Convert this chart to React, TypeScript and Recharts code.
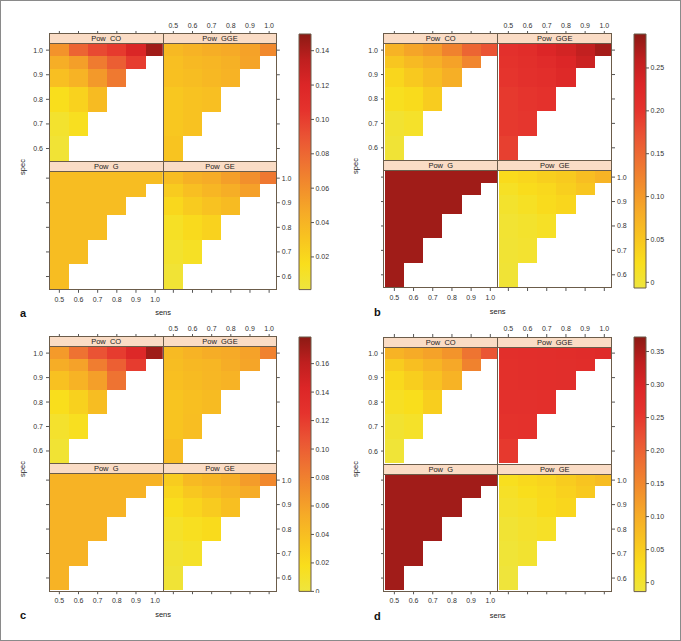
import React from 'react';
import { ScatterChart, Scatter, XAxis, YAxis, ReferenceArea } from 'recharts';

// sens levels (columns) and spec levels (rows, top to bottom)
const SENS = [0.5, 0.6, 0.7, 0.8, 0.9, 1.0];
const SPEC = [1.0, 0.95, 0.9, 0.8, 0.7, 0.6];
const SPEC_TICKS = [0.6, 0.7, 0.8, 0.9, 1.0];
const TITLES = ['Pow  CO', 'Pow  GGE', 'Pow  G', 'Pow  GE'];

// each row = one spec level, values listed from sens 0.5 upward
const A_CO = [
  [0.058, 0.082, 0.095, 0.102, 0.121, 0.144],
  [0.044, 0.052, 0.070, 0.085, 0.101],
  [0.034, 0.041, 0.055, 0.071],
  [0.016, 0.023, 0.036],
  [0.008, 0.014],
  [0.005],
];
const A_GGE = [
  [0.037, 0.041, 0.044, 0.046, 0.050, 0.063],
  [0.034, 0.037, 0.039, 0.042, 0.049],
  [0.033, 0.035, 0.038, 0.041],
  [0.029, 0.032, 0.034],
  [0.029, 0.032],
  [0.031],
];
const A_G = [
  [0.035, 0.035, 0.035, 0.035, 0.035, 0.035],
  [0.035, 0.035, 0.035, 0.035, 0.035],
  [0.035, 0.035, 0.035, 0.035],
  [0.035, 0.035, 0.035],
  [0.035, 0.035],
  [0.035],
];
const A_GE = [
  [0.035, 0.042, 0.045, 0.052, 0.060, 0.072],
  [0.027, 0.034, 0.039, 0.044, 0.051],
  [0.020, 0.027, 0.032, 0.036],
  [0.012, 0.018, 0.023],
  [0.008, 0.012],
  [0.005],
];

const B_CO = [
  [0.073, 0.088, 0.100, 0.124, 0.153, 0.171],
  [0.050, 0.064, 0.076, 0.091, 0.120],
  [0.032, 0.047, 0.061, 0.077],
  [0.020, 0.026, 0.044],
  [0.005, 0.011],
  [0.000],
];
const B_GGE = [
  [0.207, 0.215, 0.230, 0.240, 0.257, 0.275],
  [0.204, 0.210, 0.218, 0.230, 0.248],
  [0.200, 0.207, 0.212, 0.224],
  [0.195, 0.200, 0.205],
  [0.195, 0.198],
  [0.189],
];
const B_G = [
  [0.278, 0.278, 0.278, 0.278, 0.278, 0.278],
  [0.278, 0.278, 0.278, 0.278, 0.278],
  [0.278, 0.278, 0.278, 0.278],
  [0.278, 0.278, 0.278],
  [0.278, 0.278],
  [0.278],
];
const B_GE = [
  [0.026, 0.032, 0.040, 0.046, 0.060, 0.072],
  [0.015, 0.025, 0.030, 0.040, 0.050],
  [0.008, 0.016, 0.027, 0.032],
  [0.003, 0.008, 0.014],
  [0.002, 0.006],
  [0.000],
];

const C_CO = [
  [0.064, 0.089, 0.107, 0.120, 0.140, 0.172],
  [0.052, 0.059, 0.082, 0.100, 0.120],
  [0.038, 0.048, 0.061, 0.088],
  [0.018, 0.027, 0.041],
  [0.009, 0.016],
  [0.005],
];
const C_GGE = [
  [0.043, 0.048, 0.052, 0.054, 0.059, 0.079],
  [0.041, 0.044, 0.046, 0.052, 0.057],
  [0.039, 0.042, 0.045, 0.048],
  [0.036, 0.039, 0.042],
  [0.036, 0.040],
  [0.040],
];
const C_G = [
  [0.048, 0.048, 0.048, 0.048, 0.048, 0.048],
  [0.048, 0.048, 0.048, 0.048, 0.048],
  [0.048, 0.048, 0.048, 0.048],
  [0.048, 0.048, 0.048],
  [0.048, 0.048],
  [0.048],
];
const C_GE = [
  [0.030, 0.043, 0.047, 0.052, 0.063, 0.075],
  [0.024, 0.034, 0.040, 0.046, 0.053],
  [0.018, 0.024, 0.031, 0.039],
  [0.011, 0.016, 0.020],
  [0.007, 0.011],
  [0.004],
];

const D_CO = [
  [0.090, 0.102, 0.114, 0.133, 0.175, 0.214],
  [0.052, 0.071, 0.087, 0.106, 0.156],
  [0.033, 0.048, 0.067, 0.090],
  [0.017, 0.025, 0.048],
  [0.002, 0.010],
  [-0.006],
];
const D_GGE = [
  [0.268, 0.270, 0.272, 0.274, 0.276, 0.280],
  [0.266, 0.268, 0.270, 0.272, 0.275],
  [0.266, 0.268, 0.270, 0.272],
  [0.264, 0.265, 0.267],
  [0.260, 0.262],
  [0.249],
];
const D_G = [
  [0.356, 0.356, 0.356, 0.356, 0.356, 0.356],
  [0.356, 0.356, 0.356, 0.356, 0.356],
  [0.356, 0.356, 0.356, 0.356],
  [0.356, 0.356, 0.356],
  [0.356, 0.356],
  [0.356],
];
const D_GE = [
  [0.021, 0.033, 0.040, 0.052, 0.064, 0.075],
  [0.013, 0.025, 0.033, 0.044, 0.056],
  [0.006, 0.013, 0.029, 0.037],
  [-0.002, 0.006, 0.013],
  [-0.006, 0.002],
  [-0.010],
];

// colour key ranges and ticks
const A_RANGE: [number, number] = [0.001, 0.1497];
const B_RANGE: [number, number] = [-0.0066, 0.2896];
const C_RANGE: [number, number] = [0, 0.1787];
const D_RANGE: [number, number] = [-0.0136, 0.372];
const A_TICKS = [0.02, 0.04, 0.06, 0.08, 0.1, 0.12, 0.14];
const B_TICKS = [0, 0.05, 0.1, 0.15, 0.2, 0.25];
const C_TICKS = [0, 0.02, 0.04, 0.06, 0.08, 0.1, 0.12, 0.14, 0.16];
const D_TICKS = [0, 0.05, 0.1, 0.15, 0.2, 0.25, 0.3, 0.35];

const RAMP: [number, string][] = [
  [0.0, '#EEE53E'],
  [0.1, '#F9DE1C'],
  [0.2, '#F8C420'],
  [0.3, '#F6AB27'],
  [0.4, '#F28E2C'],
  [0.5, '#EE7132'],
  [0.6, '#EA5334'],
  [0.7, '#E5332D'],
  [0.8, '#DC2627'],
  [0.9, '#BF1F1F'],
  [1.0, '#8C1A14'],
];

const FONT = '"Liberation Sans", Arial, Helvetica, sans-serif';
const STRIP = 10;
const BORDER = '#6b5c4a';
const TICK = '#555';
const LABEL = '#333';
const AXW = 26;
const AXH = 16;
const M = 2;
const X_DOMAIN = [0.446, 1.04];
const Y_DOMAIN = [0.546, 1.025];

const hexToRgb = (h: string) => {
  const n = parseInt(h.slice(1), 16);
  return [(n >> 16) & 255, (n >> 8) & 255, n & 255];
};

const heat = (t: number) => {
  const u = Math.max(0, Math.min(1, t));
  for (let i = 1; i < RAMP.length; i++) {
    if (u <= RAMP[i][0]) {
      const [o0, c0] = RAMP[i - 1];
      const [o1, c1] = RAMP[i];
      const f = (u - o0) / (o1 - o0);
      const a = hexToRgb(c0);
      const b = hexToRgb(c1);
      const mix = a.map((v, k) => Math.round(v + (b[k] - v) * f));
      return `rgb(${mix[0]},${mix[1]},${mix[2]})`;
    }
  }
  return RAMP[RAMP.length - 1][1];
};

// cell edges sit halfway between neighbouring levels
const levelBounds = (levels: number[], v: number): [number, number] => {
  const s = [...levels].sort((a, b) => a - b);
  const i = s.indexOf(v);
  const n = s.length;
  const lo = i > 0 ? (s[i - 1] + v) / 2 : v - (s[1] - s[0]) / 2;
  const hi = i < n - 1 ? (v + s[i + 1]) / 2 : v + (s[n - 1] - s[n - 2]) / 2;
  return [lo, hi];
};

const fmt1 = (v: number) => v.toFixed(1);
const fmtKey = (v: number) => (v === 0 ? '0' : v.toFixed(2));
const blank = () => '';

type Quad = {
  letter: string;
  left: number;
  top: number;
  pw: number;
  ph: number;
  letterX: number;
  range: [number, number];
  ticks: number[];
  panels: number[][][];
};

const QUADS: Quad[] = [
  { letter: 'a', left: 48.3, top: 32.7, pw: 113.8, ph: 117.8, letterX: 19, range: A_RANGE, ticks: A_TICKS, panels: [A_CO, A_GGE, A_G, A_GE] },
  { letter: 'b', left: 382.7, top: 32.7, pw: 114, ph: 117, letterX: 373, range: B_RANGE, ticks: B_TICKS, panels: [B_CO, B_GGE, B_G, B_GE] },
  { letter: 'c', left: 48.3, top: 335.7, pw: 113.8, ph: 117.2, letterX: 19, range: C_RANGE, ticks: C_TICKS, panels: [C_CO, C_GGE, C_G, C_GE] },
  { letter: 'd', left: 382.7, top: 336, pw: 114, ph: 117.3, letterX: 373, range: D_RANGE, ticks: D_TICKS, panels: [D_CO, D_GGE, D_G, D_GE] },
];

const TopTick = (props: any) => {
  const { x, y, payload, show } = props;
  const y0 = y - STRIP;
  return (
    <g>
      <line x1={x} x2={x} y1={y0} y2={y0 - 3} stroke={TICK} />
      {show && (
        <text x={x} y={y0 - 6} textAnchor="middle" fontSize={7} fill={LABEL} fontFamily={FONT}>
          {fmt1(payload.value)}
        </text>
      )}
    </g>
  );
};

const Panel = ({ q, idx }: { q: Quad; idx: number }) => {
  const r = Math.floor(idx / 2);
  const c = idx % 2;
  const vals = q.panels[idx];
  const hasTop = r === 0;
  const hasLeft = c === 0;
  const offL = M + (hasLeft ? AXW : 0);
  const offR = M + (hasLeft ? 0 : AXW);
  const offT = M + (hasTop ? STRIP + AXH : 0);
  const offB = M + (hasTop ? 0 : AXH);
  const dataLeft = q.left + c * q.pw;
  const stripTop = q.top + r * (STRIP + q.ph);
  const dataTop = stripTop + STRIP;
  const [lo, hi] = q.range;

  const cells: any[] = [];
  vals.forEach((row, i) =>
    row.forEach((v, j) => {
      const spec = SPEC[i];
      const sens = SENS[j];
      const [x1, x2] = levelBounds(SENS, sens);
      const [y1, y2] = levelBounds(SPEC, spec);
      cells.push({ sens, spec, v, x1, x2, y1, y2, color: heat((v - lo) / (hi - lo)) });
    })
  );

  const showX = hasTop ? c === 1 : c === 0;
  const showY = (c === 0 && r === 0) || (c === 1 && r === 1);
  const tickStyle = { fontSize: 7, fill: LABEL, fontFamily: FONT };

  return (
    <>
      <div style={{ position: 'absolute', left: dataLeft - offL, top: dataTop - offT }}>
        <ScatterChart
          width={offL + q.pw + offR}
          height={offT + q.ph + offB}
          margin={{ top: M, right: M, bottom: M, left: M }}
        >
          {hasTop ? (
            <XAxis
              type="number"
              dataKey="sens"
              orientation="top"
              domain={X_DOMAIN}
              allowDataOverflow
              ticks={SENS}
              interval={0}
              height={STRIP + AXH}
              tickSize={0}
              tickMargin={0}
              tickLine={false}
              axisLine={false}
              tick={<TopTick show={showX} />}
            />
          ) : (
            <XAxis
              type="number"
              dataKey="sens"
              orientation="bottom"
              domain={X_DOMAIN}
              allowDataOverflow
              ticks={SENS}
              interval={0}
              height={AXH}
              tickSize={3}
              tickMargin={4}
              tickLine={{ stroke: TICK }}
              axisLine={false}
              tick={tickStyle}
              tickFormatter={showX ? fmt1 : blank}
            />
          )}
          <YAxis
            type="number"
            dataKey="spec"
            orientation={hasLeft ? 'left' : 'right'}
            domain={Y_DOMAIN}
            allowDataOverflow
            ticks={SPEC_TICKS}
            interval={0}
            width={AXW}
            tickSize={3}
            tickMargin={hasLeft ? 3 : 2}
            tickLine={{ stroke: TICK }}
            axisLine={false}
            tick={tickStyle}
            tickFormatter={showY ? fmt1 : blank}
          />
          <Scatter data={cells} isAnimationActive={false} shape={() => <g />} />
          {cells.map((d, k) => (
            <ReferenceArea
              key={k}
              x1={d.x1}
              x2={d.x2}
              y1={d.y1}
              y2={d.y2}
              fill={d.color}
              fillOpacity={1}
              stroke="none"
              shapeRendering="crispEdges"
              ifOverflow="hidden"
            />
          ))}
        </ScatterChart>
      </div>
      <div
        style={{
          position: 'absolute',
          left: dataLeft - 0.5,
          top: dataTop - 0.5,
          width: q.pw + 1,
          height: q.ph + 1,
          border: `1px solid ${BORDER}`,
          boxSizing: 'border-box',
          pointerEvents: 'none',
        }}
      />
      <div
        style={{
          position: 'absolute',
          left: dataLeft - 0.5,
          top: stripTop - 0.5,
          width: q.pw + 1,
          height: STRIP + 1,
          border: `1px solid ${BORDER}`,
          boxSizing: 'border-box',
          background: '#FADCC5',
          fontFamily: FONT,
          fontSize: 7.5,
          lineHeight: `${STRIP - 1}px`,
          textAlign: 'center',
          whiteSpace: 'pre',
          color: '#222',
        }}
      >
        {TITLES[idx]}
      </div>
    </>
  );
};

const ColorKey = ({ q, i }: { q: Quad; i: number }) => {
  const left = q.left + 2 * q.pw + 22;
  const w = 12;
  const h = 2 * (STRIP + q.ph);
  const id = `key-${i}`;
  return (
    <div style={{ position: 'absolute', left: left - M, top: q.top - M }}>
      <ScatterChart width={M + w + 34} height={h + 2 * M} margin={{ top: M, right: M, bottom: M, left: M }}>
        <defs>
          <linearGradient id={id} x1="0" y1="1" x2="0" y2="0">
            {RAMP.map(([o, col]) => (
              <stop key={o} offset={o} stopColor={col} />
            ))}
          </linearGradient>
        </defs>
        <XAxis type="number" dataKey="x" domain={[0, 1]} hide />
        <YAxis
          type="number"
          dataKey="y"
          orientation="right"
          domain={q.range}
          allowDataOverflow
          ticks={q.ticks}
          interval={0}
          width={32}
          tickSize={3}
          tickMargin={1.5}
          tickLine={{ stroke: TICK }}
          axisLine={false}
          tick={{ fontSize: 7, fill: LABEL, fontFamily: FONT }}
          tickFormatter={fmtKey}
        />
        <Scatter data={q.ticks.map((t) => ({ x: 0.5, y: t }))} isAnimationActive={false} shape={() => <g />} />
        <ReferenceArea
          x1={0}
          x2={1}
          y1={q.range[0]}
          y2={q.range[1]}
          fill={`url(#${id})`}
          fillOpacity={1}
          stroke={BORDER}
          strokeWidth={1}
        />
      </ScatterChart>
    </div>
  );
};

const textBase: React.CSSProperties = {
  position: 'absolute',
  fontFamily: FONT,
  lineHeight: 1,
  whiteSpace: 'nowrap',
  color: '#222',
};

export default function App() {
  return (
    <div
      style={{
        position: 'absolute',
        left: 0,
        top: 0,
        width: 681,
        height: 641,
        border: '1px solid #8a8a8a',
        boxSizing: 'border-box',
        background: '#fff',
        overflow: 'hidden',
      }}
    >
      {QUADS.map((q, i) => {
        const bottom = q.top + 2 * (STRIP + q.ph);
        const specX = q.left - (q.letter === 'a' || q.letter === 'c' ? 26.6 : 27.7);
        return (
          <React.Fragment key={q.letter}>
            {[0, 1, 2, 3].map((idx) => (
              <Panel key={idx} q={q} idx={idx} />
            ))}
            <ColorKey q={q} i={i} />
            <div
              style={{
                ...textBase,
                fontSize: 7.5,
                left: q.left + q.pw,
                top: bottom + 24,
                transform: 'translate(-50%, -50%)',
              }}
            >
              sens
            </div>
            <div
              style={{
                ...textBase,
                fontSize: 7.5,
                left: specX,
                top: (q.top + STRIP + bottom) / 2,
                transform: 'translate(-50%, -50%) rotate(-90deg)',
              }}
            >
              spec
            </div>
            <div
              style={{
                ...textBase,
                fontSize: 11,
                fontWeight: 'bold',
                color: '#111',
                left: q.letterX,
                top: bottom + 24,
                transform: 'translateY(-50%)',
              }}
            >
              {q.letter}
            </div>
          </React.Fragment>
        );
      })}
    </div>
  );
}
